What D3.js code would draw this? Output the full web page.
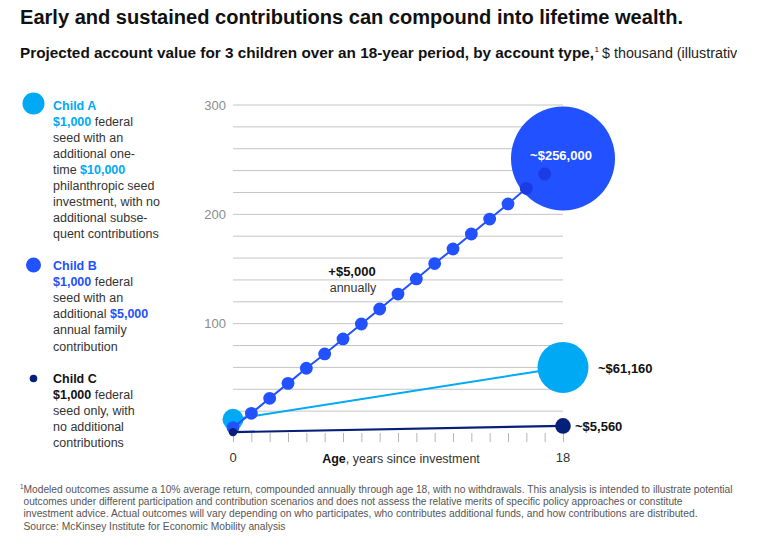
<!DOCTYPE html>
<html><head><meta charset="utf-8">
<script src="https://cdn.jsdelivr.net/npm/d3@7"></script>
<style>
html,body{margin:0;padding:0;background:#fff;}
svg{display:block;font-family:"Liberation Sans",Arial,sans-serif;}
</style></head>
<body>
<svg id="chart" width="767" height="545"></svg>
<script>
// ---- data ----
const ages = [0,1,2,3,4,5,6,7,8,9,10,11,12,13,14,15,16,17,18];
const childB = [5,18,31.7,45.4,59.2,72.3,86,99.7,113.4,127.1,140.9,155,168.3,182,195.7,209.5,223.8,236.9,251];
const childAAges = [0,18];
const childA = [12.5,60];
const childCAges = [0,18];
const childC = [0.8,6.5];
const yTicks = [100,200,300];
const gridValues = [20,40,60,80,100,120,140,160,180,200,220,240,260,280,300];
const xTickLabels = [0,18];
const endLabels = {A:"~$61,160", B:"~$256,000", C:"~$5,560"};

const COL = {A:"#00A9F4", B:"#2251FF", Bdark:"#1B3BE3", C:"#061F79", grid:"#c4c4c4", text:"#333"};

const svg = d3.select("#chart");
const clip = svg.append("defs").append("clipPath").attr("id","clipR");
clip.append("rect").attr("x",0).attr("y",0).attr("width",737).attr("height",545);

function fit(sel, w){ sel.attr("textLength", w).attr("lengthAdjust","spacingAndGlyphs"); }

// Title
fit(svg.append("text").attr("x",20).attr("y",24).attr("font-size",20).attr("font-weight","bold")
  .attr("fill","#111").text("Early and sustained contributions can compound into lifetime wealth."), 663);

// Subtitle
const sub = svg.append("g").attr("clip-path","url(#clipR)");
fit(sub.append("text").attr("x",20).attr("y",58).attr("font-size",14).attr("font-weight","bold").attr("fill","#111")
  .text("Projected account value for 3 children over an 18-year period, by account type,"), 574);
sub.append("text").attr("x",594.5).attr("y",52).attr("font-size",8).attr("fill","#111").text("1");
fit(sub.append("text").attr("x",602).attr("y",58).attr("font-size",14).attr("fill","#222")
  .text("$ thousand (illustrative)"), 148);

// Scales
const x = d3.scaleLinear().domain([0,18]).range([233,563]);
const y = d3.scaleLinear().domain([0,300]).range([433,105]);

// gridlines
svg.append("g").selectAll("line").data(gridValues).join("line")
  .attr("x1",x(0)).attr("x2",x(18)).attr("y1",d=>y(d)).attr("y2",d=>y(d))
  .attr("stroke",COL.grid).attr("stroke-width",1);

// y labels
svg.append("g").selectAll("text").data(yTicks).join("text")
  .attr("x",226).attr("y",d=>y(d)+4.5).attr("text-anchor","end")
  .attr("font-size",13).attr("fill","#8c8c8c").text(d=>d);

// x axis ticks
const xAxis = d3.axisBottom(x).tickValues(ages).tickSize(9).tickFormat("");
const gx = svg.append("g").attr("transform",`translate(0,${y(0)})`).call(xAxis);
gx.select(".domain").remove();
gx.selectAll(".tick line").attr("stroke","#b5b5b5");

svg.append("g").selectAll("text").data(xTickLabels).join("text")
  .attr("x",d=>x(d)).attr("y",462).attr("text-anchor","middle")
  .attr("font-size",13).attr("fill","#333").text(d=>d);
const xt = svg.append("text").attr("x",401).attr("y",463).attr("text-anchor","middle").attr("font-size",12.5).attr("fill","#333");
xt.append("tspan").attr("font-weight","bold").attr("fill","#111").text("Age");
xt.append("tspan").text(", years since investment");

const line = d3.line().x(d=>x(d[0])).y(d=>y(d[1]));

// Child A
const aPts = childAAges.map((a,i)=>[a,childA[i]]);
svg.append("path").attr("d",line(aPts)).attr("fill","none").attr("stroke",COL.A).attr("stroke-width",2);
svg.append("circle").attr("cx",x(aPts[0][0])).attr("cy",y(aPts[0][1])).attr("r",10.5).attr("fill",COL.A);
svg.append("circle").attr("cx",x(aPts[1][0])).attr("cy",y(aPts[1][1])).attr("r",25.5).attr("fill",COL.A);

// Child B
const bPts = ages.map((a,i)=>[a,childB[i]]);
svg.append("path").attr("d",line(bPts)).attr("fill","none").attr("stroke",COL.B).attr("stroke-width",2);
svg.append("g").selectAll("circle").data(bPts.slice(0,-1)).join("circle")
  .attr("cx",d=>x(d[0])).attr("cy",d=>y(d[1])).attr("r",6.4).attr("fill",COL.B);
const bLast = bPts[bPts.length-1];
const bigR = 52;
svg.append("circle").attr("cx",x(bLast[0])).attr("cy",y(bLast[1])).attr("r",bigR).attr("fill",COL.B);
// dots visible inside the big circle
svg.append("g").selectAll("circle").data(bPts.slice(0,-1).filter(d=>Math.hypot(x(d[0])-x(bLast[0]),y(d[1])-y(bLast[1]))<bigR+6))
  .join("circle").attr("cx",d=>x(d[0])).attr("cy",d=>y(d[1])).attr("r",6.4).attr("fill",COL.Bdark);

// Child C
const cPts = childCAges.map((a,i)=>[a,childC[i]]);
svg.append("path").attr("d",line(cPts)).attr("fill","none").attr("stroke",COL.C).attr("stroke-width",2.2);
svg.append("circle").attr("cx",x(cPts[0][0])).attr("cy",y(cPts[0][1])).attr("r",4.2).attr("fill",COL.C);
svg.append("circle").attr("cx",x(cPts[1][0])).attr("cy",y(cPts[1][1])).attr("r",7.8).attr("fill",COL.C);

// end labels
svg.append("text").attr("x",x(bLast[0])-2).attr("y",y(bLast[1])+1).attr("text-anchor","middle")
  .attr("font-size",13).attr("font-weight","bold").attr("fill","#fff").text(endLabels.B);
svg.append("text").attr("x",x(aPts[1][0])+35).attr("y",y(aPts[1][1])+6).attr("font-size",13)
  .attr("font-weight","bold").attr("fill","#111").text(endLabels.A);
svg.append("text").attr("x",x(cPts[1][0])+12).attr("y",y(cPts[1][1])+5).attr("font-size",13)
  .attr("font-weight","bold").attr("fill","#111").text(endLabels.C);

// annotation
svg.append("text").attr("x",352).attr("y",276).attr("text-anchor","middle").attr("font-size",13)
  .attr("font-weight","bold").attr("fill","#111").text("+$5,000");
svg.append("text").attr("x",353).attr("y",291.5).attr("text-anchor","middle").attr("font-size",12.5)
  .attr("fill","#333").text("annually");

// Legend
const legend = [
  {name:"Child A", color:COL.A, nameColor:COL.A, r:11, cy:103.5, y0:109.5, lines:[
    [["$1,000",1]," federal"],["seed with an"],["additional one-"],["time ",["$10,000",1]],
    ["philanthropic seed"],["investment, with no"],["additional subse-"],["quent contributions"]]},
  {name:"Child B", color:COL.B, nameColor:COL.B, r:7.5, cy:265, y0:270, lines:[
    [["$1,000",1]," federal"],["seed with an"],["additional ",["$5,000",1]],["annual family"],["contribution"]]},
  {name:"Child C", color:COL.C, nameColor:"#111", r:3.8, cy:378.5, y0:383, lines:[
    [["$1,000",1]," federal"],["seed only, with"],["no additional"],["contributions"]]}
];
legend.forEach(L=>{
  svg.append("circle").attr("cx",33.5).attr("cy",L.cy).attr("r",L.r).attr("fill",L.color);
  svg.append("text").attr("x",53).attr("y",L.y0).attr("font-size",12.5).attr("font-weight","bold")
    .attr("fill",L.nameColor).text(L.name);
  L.lines.forEach((ln,i)=>{
    const t = svg.append("text").attr("x",53).attr("y",L.y0+16.1*(i+1)).attr("font-size",12.5).attr("fill","#333");
    ln.forEach(part=>{
      if(Array.isArray(part)) t.append("tspan").attr("font-weight","bold")
        .attr("fill", L.name==="Child C" ? "#111" : L.color).text(part[0]);
      else t.append("tspan").text(part);
    });
  });
});

// Footnote
const fn = [
  ["Modeled outcomes assume a 10% average return, compounded annually through age 18, with no withdrawals. This analysis is intended to illustrate potential", 709],
  ["outcomes under different participation and contribution scenarios and does not assess the relative merits of specific policy approaches or constitute", 659],
  ["investment advice. Actual outcomes will vary depending on who participates, who contributes additional funds, and how contributions are distributed.", 674],
  ["Source: McKinsey Institute for Economic Mobility analysis", 262]
];
svg.append("text").attr("x",20).attr("y",489).attr("font-size",6.5).attr("fill","#555").text("1");
fn.forEach((f,i)=>{
  fit(svg.append("text").attr("x",23.5).attr("y",493+12.2*i).attr("font-size",10.5).attr("fill","#555").text(f[0]), f[1]);
});
</script>
</body></html>
